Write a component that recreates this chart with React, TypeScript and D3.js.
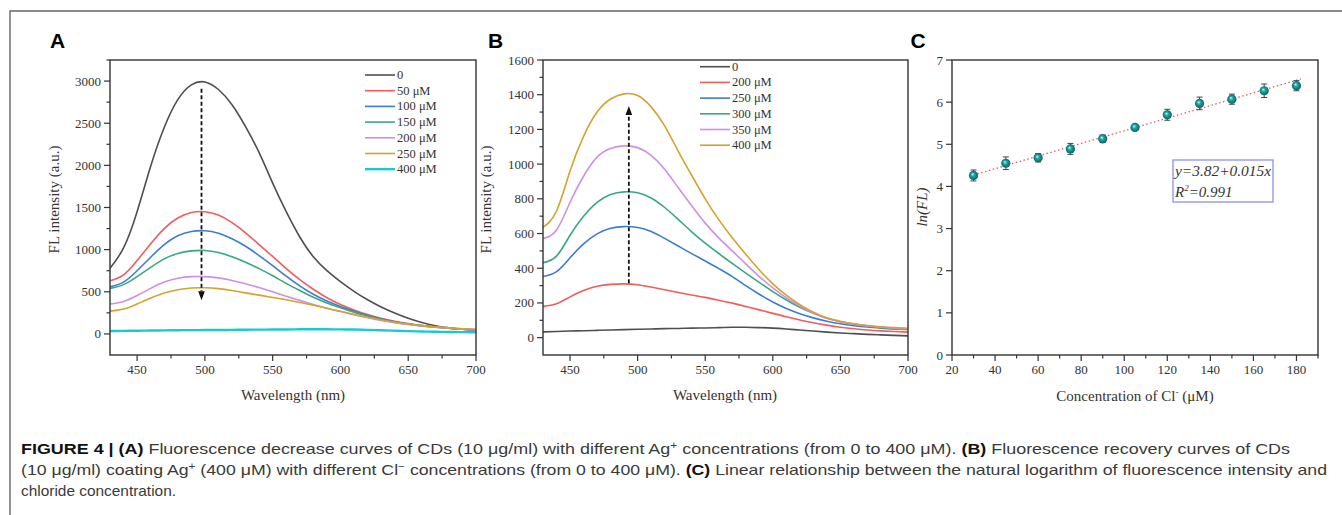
import React from 'react';
import * as d3 from 'd3';

// ---------------- DATA ----------------
const WAVELENGTHS = [430, 440, 450, 460, 470, 480, 490, 500, 510, 520, 530, 540, 550, 560, 570, 580, 590, 600, 610, 620, 630, 640, 650, 660, 670, 680, 690, 700];

// Panel A: Ag+ quenching
const A_LABELS = ['0', '50 μM', '100 μM', '150 μM', '200 μM', '250 μM', '400 μM'];
const A_0 = [780, 1020, 1450, 1990, 2450, 2780, 2955, 2990, 2900, 2720, 2460, 2150, 1790, 1450, 1150, 915, 750, 620, 505, 405, 320, 248, 185, 135, 98, 72, 55, 42];
const A_50 = [630, 700, 870, 1070, 1250, 1375, 1440, 1450, 1410, 1320, 1200, 1060, 920, 775, 645, 530, 430, 350, 285, 230, 185, 150, 122, 100, 82, 68, 57, 48];
const A_100 = [560, 615, 750, 910, 1060, 1165, 1215, 1225, 1195, 1130, 1040, 930, 810, 685, 570, 470, 390, 325, 270, 220, 178, 145, 118, 98, 82, 68, 57, 48];
const A_150 = [540, 585, 680, 790, 890, 955, 985, 990, 965, 915, 850, 775, 690, 600, 515, 435, 368, 310, 258, 212, 172, 140, 115, 96, 80, 67, 56, 48];
const A_200 = [355, 385, 455, 540, 615, 660, 680, 680, 665, 635, 595, 550, 500, 448, 398, 350, 305, 265, 228, 192, 160, 134, 112, 94, 79, 67, 57, 50];
const A_250 = [270, 295, 355, 425, 485, 525, 545, 548, 538, 515, 487, 460, 433, 405, 373, 340, 305, 268, 232, 197, 166, 139, 117, 99, 84, 72, 62, 55];
const A_400 = [35, 36, 38, 40, 42, 44, 45, 46, 47, 48, 50, 51, 52, 53, 55, 55, 55, 54, 52, 48, 44, 38, 33, 29, 26, 23, 21, 20];
const A_Y_TICKS = [0, 500, 1000, 1500, 2000, 2500, 3000];
const A_ARROW = { wavelength: 497.5, from: 2910, to: 400 };

// Panel B: Cl- recovery
const B_LABELS = ['0', '200 μM', '250 μM', '300 μM', '350 μM', '400 μM'];
const B_0 = [33, 35, 38, 40, 42, 44, 46, 48, 50, 52, 53, 55, 56, 58, 60, 60, 58, 55, 50, 44, 38, 32, 27, 23, 19, 16, 13, 10];
const B_200 = [180, 195, 235, 272, 296, 307, 310, 305, 292, 276, 260, 246, 232, 216, 199, 180, 160, 140, 120, 102, 86, 72, 60, 51, 44, 39, 35, 32];
const B_250 = [352, 380, 460, 540, 598, 630, 640, 635, 612, 572, 528, 484, 442, 398, 352, 300, 250, 205, 168, 138, 114, 95, 80, 69, 61, 55, 50, 47];
const B_300 = [432, 470, 590, 700, 780, 825, 840, 835, 805, 750, 682, 610, 545, 485, 428, 372, 318, 265, 217, 175, 140, 112, 92, 78, 67, 59, 53, 48];
const B_350 = [572, 620, 780, 930, 1040, 1090, 1105, 1095, 1050, 970, 865, 760, 660, 575, 500, 425, 352, 287, 230, 182, 142, 112, 92, 78, 68, 60, 55, 50];
const B_400 = [635, 730, 960, 1160, 1300, 1375, 1405, 1395, 1330, 1220, 1075, 935, 800, 680, 575, 480, 390, 310, 245, 190, 147, 115, 95, 80, 70, 63, 58, 54];
const B_Y_TICKS = [0, 200, 400, 600, 800, 1000, 1200, 1400, 1600];
const B_ARROW = { wavelength: 493.5, from: 313, to: 1335 };

const X_TICKS = [450, 500, 550, 600, 650, 700];

// Panel C: ln(FL) vs Cl-
const C_CONC = [30, 45, 60, 75, 90, 105, 120, 135, 150, 165, 180];
const C_LNFL = [4.26, 4.55, 4.68, 4.89, 5.13, 5.40, 5.70, 5.97, 6.07, 6.27, 6.39];
const C_ERR = [0.13, 0.15, 0.10, 0.13, 0.09, 0.07, 0.13, 0.15, 0.12, 0.16, 0.12];
const C_FIT = { intercept: 3.82, slope: 0.015, r2: '0.991' };
const C_X_TICKS = [20, 40, 60, 80, 100, 120, 140, 160, 180];
const C_Y_TICKS = [0, 1, 2, 3, 4, 5, 6, 7];

// ---------------- STYLE ----------------
const COLORS_A = ['#4f4f4f', '#f25c5c', '#3b7dd0', '#3aa87e', '#cf8fe6', '#d4a32c', '#19c9d3'];
const COLORS_B = ['#4f4f4f', '#f25c5c', '#3b7dd0', '#3aa87e', '#cf8fe6', '#d4a32c'];
const SERIF = '"Liberation Serif", "Times New Roman", serif';
const SANS = '"Liberation Sans", Arial, sans-serif';
const AXIS_COLOR = '#333';

type Box = { left: number; right: number; top: number; bottom: number };

function Frame({ box }: { box: Box }) {
  return (
    <rect x={box.left} y={box.top} width={box.right - box.left} height={box.bottom - box.top}
      fill="none" stroke={AXIS_COLOR} strokeWidth={1.4} />
  );
}

function XAxis({ x, box, ticks, minor, labelY }: { x: d3.ScaleLinear<number, number>; box: Box; ticks: number[]; minor: number[]; labelY: number }) {
  return (
    <g>
      {minor.map((t) => (
        <line key={'m' + t} x1={x(t)} x2={x(t)} y1={box.bottom} y2={box.bottom + 3.5} stroke={AXIS_COLOR} strokeWidth={1.2} />
      ))}
      {ticks.map((t) => (
        <g key={t}>
          <line x1={x(t)} x2={x(t)} y1={box.bottom} y2={box.bottom + 6} stroke={AXIS_COLOR} strokeWidth={1.2} />
          <text x={x(t)} y={labelY} textAnchor="middle" fontFamily={SERIF} fontSize={13} fill="#333">{t}</text>
        </g>
      ))}
    </g>
  );
}

function YAxis({ y, box, ticks, minor }: { y: d3.ScaleLinear<number, number>; box: Box; ticks: number[]; minor: number[] }) {
  return (
    <g>
      {minor.map((t) => (
        <line key={'m' + t} x1={box.left - 3.5} x2={box.left} y1={y(t)} y2={y(t)} stroke={AXIS_COLOR} strokeWidth={1.2} />
      ))}
      {ticks.map((t) => (
        <g key={t}>
          <line x1={box.left - 6} x2={box.left} y1={y(t)} y2={y(t)} stroke={AXIS_COLOR} strokeWidth={1.2} />
          <text x={box.left - 9} y={y(t) + 4.5} textAnchor="end" fontFamily={SERIF} fontSize={13} fill="#333">{t}</text>
        </g>
      ))}
    </g>
  );
}

function Arrow({ x, y1, y2 }: { x: number; y1: number; y2: number }) {
  const dir = y2 > y1 ? 1 : -1;
  const headLen = 9;
  const base = y2 - dir * headLen;
  return (
    <g>
      <line x1={x} x2={x} y1={y1} y2={base} stroke="#111" strokeWidth={1.8} strokeDasharray="4 2.5" />
      <path d={`M${x - 3.3},${base} L${x + 3.3},${base} L${x},${y2} Z`} fill="#111" />
    </g>
  );
}

type SpecProps = {
  id: string;
  box: Box;
  yDomain: [number, number];
  yTicks: number[];
  yMinor: number[];
  series: number[][];
  labels: string[];
  colors: string[];
  legendLineX: number;
  legendTopY: number;
  arrow: { wavelength: number; from: number; to: number };
  letter: string;
  letterX: number;
  yLabelX: number;
  xLabelX: number;
};

function SpectrumPanel(p: SpecProps) {
  const x = d3.scaleLinear().domain([430, 700]).range([p.box.left, p.box.right]);
  const y = d3.scaleLinear().domain(p.yDomain).range([p.box.bottom, p.box.top]);
  const line = d3.line<number>()
    .x((_, i) => x(WAVELENGTHS[i]))
    .y((d) => y(d))
    .curve(d3.curveNatural);
  const xMinor = [475, 525, 575, 625, 675];
  const rowH = 15.7;
  return (
    <g>
      <defs>
        <clipPath id={'clip' + p.id}>
          <rect x={p.box.left} y={p.box.top} width={p.box.right - p.box.left} height={p.box.bottom - p.box.top} />
        </clipPath>
      </defs>
      <text x={p.letterX} y={47.5} fontFamily={SANS} fontWeight="bold" fontSize={21} fill="#000">{p.letter}</text>
      <g clipPath={`url(#clip${p.id})`}>
        {p.series.map((s, i) => (
          <path key={i} d={line(s) || ''} fill="none" stroke={p.colors[i]}
            strokeWidth={p.colors[i] === '#19c9d3' ? 2.4 : 1.6} />
        ))}
      </g>
      <Arrow x={x(p.arrow.wavelength)} y1={y(p.arrow.from)} y2={y(p.arrow.to)} />
      <Frame box={p.box} />
      <XAxis x={x} box={p.box} ticks={X_TICKS} minor={xMinor} labelY={374} />
      <YAxis y={y} box={p.box} ticks={p.yTicks} minor={p.yMinor} />
      <text x={p.xLabelX} y={400} textAnchor="middle" fontFamily={SERIF} fontSize={15} fill="#333">Wavelength (nm)</text>
      <text transform={`translate(${p.yLabelX},${(p.box.top + p.box.bottom) / 2 - 8}) rotate(-90)`} textAnchor="middle"
        fontFamily={SERIF} fontSize={15} fill="#333">FL intensity (a.u.)</text>
      {p.labels.map((lab, i) => (
        <g key={lab}>
          <line x1={p.legendLineX} x2={p.legendLineX + 30} y1={p.legendTopY + i * rowH} y2={p.legendTopY + i * rowH}
            stroke={p.colors[i]} strokeWidth={p.colors[i] === '#19c9d3' ? 2.4 : 1.6} />
          <text x={p.legendLineX + 32} y={p.legendTopY + i * rowH + 4} fontFamily={SERIF} fontSize={12.5} fill="#333">{lab}</text>
        </g>
      ))}
    </g>
  );
}

function PanelC() {
  const box: Box = { left: 952, right: 1318, top: 60, bottom: 355 };
  const x = d3.scaleLinear().domain([20, 190]).range([box.left, box.right]);
  const y = d3.scaleLinear().domain([0, 7]).range([box.bottom, box.top]);
  const xMinor = [30, 50, 70, 90, 110, 130, 150, 170, 190];
  const fitX0 = C_CONC[0];
  const fitX1 = C_CONC[C_CONC.length - 1] + 2;
  return (
    <g>
      <defs>
        <radialGradient id="ball" cx="50%" cy="50%" r="55%" fx="38%" fy="35%">
          <stop offset="0%" stopColor="#c8ffff" />
          <stop offset="35%" stopColor="#22a8a8" />
          <stop offset="100%" stopColor="#005a5a" />
        </radialGradient>
      </defs>
      <text x={910.5} y={47.5} fontFamily={SANS} fontWeight="bold" fontSize={21} fill="#000">C</text>
      <line x1={x(fitX0)} y1={y(C_FIT.intercept + C_FIT.slope * fitX0)} x2={x(fitX1)} y2={y(C_FIT.intercept + C_FIT.slope * fitX1)}
        stroke="#e25a5a" strokeWidth={1.3} strokeDasharray="1.5 2.5" />
      {C_CONC.map((c, i) => (
        <g key={c}>
          <line x1={x(c)} x2={x(c)} y1={y(C_LNFL[i] - C_ERR[i])} y2={y(C_LNFL[i] + C_ERR[i])} stroke="#444" strokeWidth={1} />
          <line x1={x(c) - 3} x2={x(c) + 3} y1={y(C_LNFL[i] + C_ERR[i])} y2={y(C_LNFL[i] + C_ERR[i])} stroke="#444" strokeWidth={1} />
          <line x1={x(c) - 3} x2={x(c) + 3} y1={y(C_LNFL[i] - C_ERR[i])} y2={y(C_LNFL[i] - C_ERR[i])} stroke="#444" strokeWidth={1} />
          <circle cx={x(c)} cy={y(C_LNFL[i])} r={4.6} fill="url(#ball)" />
        </g>
      ))}
      <rect x={1173} y={160} width={100} height={42} fill="#fff" stroke="#8f8fe8" strokeWidth={1.3} />
      <text x={1175} y={176} fontFamily={SERIF} fontStyle="italic" fontSize={15} fill="#333" textLength={96} lengthAdjust="spacingAndGlyphs">
        y=3.82+0.015x
      </text>
      <text x={1175} y={197} fontFamily={SERIF} fontStyle="italic" fontSize={15} fill="#333">
        R<tspan dy={-6} fontSize={9}>2</tspan><tspan dy={6}>={C_FIT.r2}</tspan>
      </text>
      <Frame box={box} />
      <XAxis x={x} box={box} ticks={C_X_TICKS} minor={xMinor} labelY={374} />
      <YAxis y={y} box={box} ticks={C_Y_TICKS} minor={[]} />
      <text x={1135} y={401} textAnchor="middle" fontFamily={SERIF} fontSize={15} fill="#333">
        Concentration of Cl<tspan dy={-6} fontSize={9}>-</tspan><tspan dy={6}> (μM)</tspan>
      </text>
      <text transform={`translate(${927},${207}) rotate(-90)`} textAnchor="middle" fontFamily={SERIF} fontStyle="italic" fontSize={15} fill="#333">ln(FL)</text>
    </g>
  );
}

function Caption() {
  const cap = { fontFamily: SANS, fontSize: 15, fill: '#3a3a3a' } as const;
  return (
    <g>
      <text x={21} y={454} {...cap} textLength={1269} lengthAdjust="spacingAndGlyphs">
        <tspan fontWeight="bold" fill="#111">FIGURE 4 | (A)</tspan> Fluorescence decrease curves of CDs (10 μg/ml) with different Ag<tspan dy={-5} fontSize={10}>+</tspan><tspan dy={5}> concentrations (from 0 to 400 μM). </tspan><tspan fontWeight="bold" fill="#111">(B)</tspan> Fluorescence recovery curves of CDs
      </text>
      <text x={21} y={475} {...cap} textLength={1306} lengthAdjust="spacingAndGlyphs">
        (10 μg/ml) coating Ag<tspan dy={-5} fontSize={10}>+</tspan><tspan dy={5}> (400 μM) with different Cl</tspan><tspan dy={-5} fontSize={10}>−</tspan><tspan dy={5}> concentrations (from 0 to 400 μM). </tspan><tspan fontWeight="bold" fill="#111">(C)</tspan> Linear relationship between the natural logarithm of fluorescence intensity and
      </text>
      <text x={21} y={496} {...cap} textLength={155} lengthAdjust="spacingAndGlyphs">chloride concentration.</text>
    </g>
  );
}

export default function App() {
  return (
    <svg width={1342} height={515} style={{ position: 'absolute', left: 0, top: 0, display: 'block', background: '#fff' }}>
      <rect x={0} y={0} width={1342} height={515} fill="#fff" />
      <path d="M10,515 L10,11 L1342,11" fill="none" stroke="#666" strokeWidth={1.4} />
      <SpectrumPanel
        id="A"
        box={{ left: 110, right: 476, top: 60, bottom: 355 }}
        yDomain={[-250, 3250]}
        yTicks={A_Y_TICKS}
        yMinor={[250, 750, 1250, 1750, 2250, 2750, 3250]}
        series={[A_0, A_50, A_100, A_150, A_200, A_250, A_400]}
        labels={A_LABELS}
        colors={COLORS_A}
        legendLineX={365}
        legendTopY={75}
        arrow={A_ARROW}
        letter="A"
        letterX={50}
        yLabelX={59}
        xLabelX={293}
      />
      <SpectrumPanel
        id="B"
        box={{ left: 543, right: 908, top: 60, bottom: 355 }}
        yDomain={[-100, 1600]}
        yTicks={B_Y_TICKS}
        yMinor={[100, 300, 500, 700, 900, 1100, 1300, 1500]}
        series={[B_0, B_200, B_250, B_300, B_350, B_400]}
        labels={B_LABELS}
        colors={COLORS_B}
        legendLineX={700}
        legendTopY={66.7}
        arrow={B_ARROW}
        letter="B"
        letterX={488}
        yLabelX={491}
        xLabelX={725}
      />
      <PanelC />
      <Caption />
    </svg>
  );
}
